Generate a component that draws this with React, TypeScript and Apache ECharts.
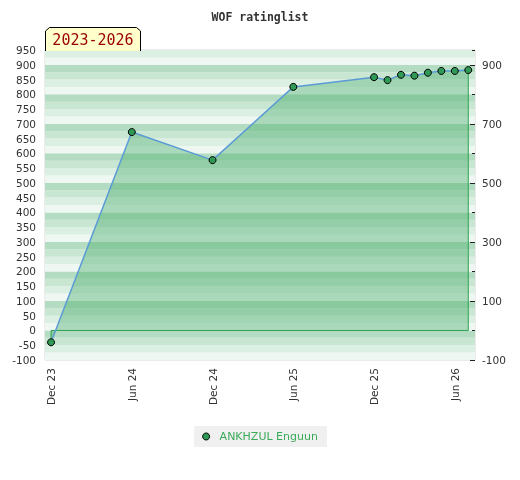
import React, { useEffect, useRef } from 'react';
import * as echarts from 'echarts';

const months = [0, 6, 12, 18, 24, 25, 26, 27, 28, 29, 30, 31];
const ratings = [-40, 672, 577, 825, 858, 848, 866, 863, 873, 879, 879, 882];
const xTickValues = [0, 6, 12, 18, 24, 30];
const xTickLabels = ['Dec 23', 'Jun 24', 'Dec 24', 'Jun 25', 'Dec 25', 'Jun 26'];
const rightTickValues = [-100, 100, 300, 500, 700, 900];
const stripeColors = ['#eef7f1', '#dcefe3', '#c8e6d2', '#b3dcc2'];
const playerName = 'ANKHZUL Enguun';
const titleText = 'WOF ratinglist';
const periodText = '2023-2026';

export default function App() {
  const ref = useRef<HTMLDivElement>(null);
  useEffect(() => {
    if (!ref.current) return;
    const chart = echarts.init(ref.current, undefined, { renderer: 'svg' });
    const points = months.map((m, i) => [m, ratings[i]]);
    const n = months.length - 1;
    const outline = [
      [months[0], ratings[0]],
      [months[0], 0],
      [months[n], 0],
      [months[n], ratings[n]],
    ];
    const labelFont = { fontFamily: 'DejaVu Sans', fontSize: 10.5, color: '#333' };
    const yBase = { type: 'value', min: -100, max: 950, axisLine: { show: false }, splitLine: { show: false } };
    chart.setOption({
      animation: false,
      title: {
        text: titleText,
        left: 'center',
        top: 6,
        textStyle: { fontFamily: 'DejaVu Sans Mono', fontWeight: 'bold', fontSize: 11.5, color: '#333' },
      },
      grid: { left: 45, right: 45, top: 50, bottom: 120, show: true, borderColor: '#d8d8d8', borderWidth: 1, backgroundColor: 'transparent' },
      legend: {
        data: [{ name: playerName, icon: 'circle' }],
        top: 426,
        left: 'center',
        backgroundColor: '#f0f0f0',
        padding: [5, 9, 5, 8],
        itemWidth: 7,
        itemHeight: 7,
        itemStyle: { borderColor: '#000', borderWidth: 1 },
        textStyle: { color: '#3aaa5a', fontSize: 11, fontFamily: 'DejaVu Sans', padding: [0, 0, 0, 5] },
      },
      xAxis: {
        type: 'value',
        min: -0.45,
        max: 31.5,
        axisLine: { show: false },
        axisTick: { show: false },
        splitLine: { show: false },
        axisLabel: {
          ...labelFont,
          customValues: xTickValues,
          rotate: 90,
          margin: 8,
          formatter: (v: number) => xTickLabels[xTickValues.indexOf(v)] ?? '',
        },
      },
      yAxis: [
        {
          ...yBase,
          position: 'left',
          interval: 50,
          axisTick: { show: false },
          axisLabel: { ...labelFont, margin: 9 },
        },
        {
          ...yBase,
          position: 'right',
          interval: 100,
          axisLabel: { show: false },
          axisTick: { show: true, inside: true, length: 3, lineStyle: { color: '#222' } },
        },
        {
          ...yBase,
          position: 'right',
          axisLabel: { ...labelFont, margin: 7, customValues: rightTickValues },
          axisTick: { show: true, inside: true, length: 5, customValues: rightTickValues, lineStyle: { color: '#222' } },
        },
        {
          ...yBase,
          position: 'left',
          interval: 25,
          axisLabel: { show: false },
          axisTick: { show: false },
          splitArea: { show: true, areaStyle: { color: stripeColors } },
        },
      ],
      graphic: [
        {
          type: 'polygon',
          z: 100,
          shape: { points: [[45, 51], [45, 31], [49, 27], [137, 27], [141, 31], [141, 51]] },
          style: { fill: '#ffffcc', stroke: null },
        },
        {
          type: 'polyline',
          z: 101,
          shape: { points: [[45.5, 51], [45.5, 31], [49.5, 27.5], [136.5, 27.5], [140.5, 31], [140.5, 51]] },
          style: { stroke: '#000', lineWidth: 1, fill: null },
        },
        {
          type: 'text',
          z: 102,
          x: 93,
          y: 40,
          style: {
            text: periodText,
            fill: '#990000',
            font: '15px "DejaVu Sans Mono"',
            align: 'center',
            verticalAlign: 'middle',
          },
        },
      ],
      series: [
        {
          type: 'line',
          name: 'area',
          data: points,
          yAxisIndex: 0,
          z: 2,
          symbol: 'none',
          silent: true,
          lineStyle: { width: 0, opacity: 0 },
          areaStyle: { color: 'rgba(76,175,110,0.6)', origin: 0 },
        },
        {
          type: 'line',
          name: 'outline',
          data: outline,
          yAxisIndex: 0,
          z: 3,
          symbol: 'none',
          silent: true,
          lineStyle: { color: '#2ea44f', width: 1 },
        },
        {
          type: 'line',
          name: playerName,
          data: points,
          yAxisIndex: 0,
          z: 4,
          symbol: 'circle',
          symbolSize: 7,
          lineStyle: { color: '#5b9bd5', width: 1.5 },
          itemStyle: { color: '#2e9a55', borderColor: '#000', borderWidth: 1 },
        },
      ],
    });
    return () => chart.dispose();
  }, []);
  return <div ref={ref} style={{ position: 'fixed', left: 0, top: 0, width: 520, height: 480 }} />;
}
